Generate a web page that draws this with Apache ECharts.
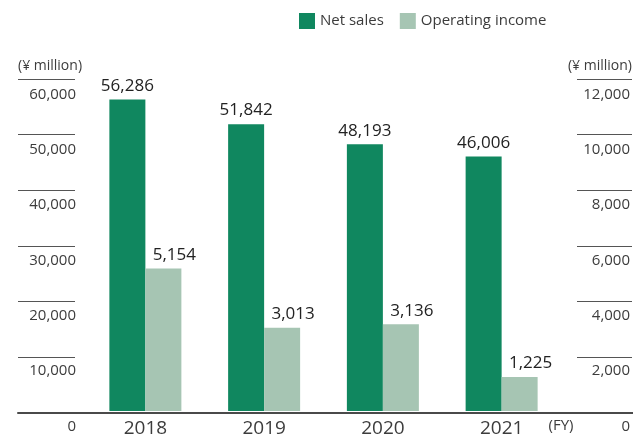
<!DOCTYPE html>
<html>
<head>
<meta charset="utf-8">
<script src="https://cdn.jsdelivr.net/npm/echarts@6/dist/echarts.min.js"></script>
<style>
  html, body { margin: 0; padding: 0; background: #fff; }
  #chart { width: 633px; height: 438px; }
</style>
</head>
<body>
<div id="chart"></div>
<script>
// Fiscal years and results (¥ million)
const years = ['2018', '2019', '2020', '2021'];
const netSales = [56286, 51842, 48193, 46006];
const operatingIncome = [5154, 3013, 3136, 1225];

// Axis scales
const salesMax = 60000, salesStep = 10000;
const incomeMax = 12000, incomeStep = 2000;
const unitLabel = '(¥ million)';
const periodLabel = '(FY)';

const FONT = '"Open Sans", "Noto Sans", sans-serif';
const GREEN = '#10875f';
const PALE = '#a6c5b3';
const TEXT = '#3c3c3c';
const RULE = '#555555';

const fmt = v => Number(v).toLocaleString('en-US');

const chart = echarts.init(document.getElementById('chart'), null, { renderer: 'canvas' });

const gridBox = { top: 79, bottom: 25 };

chart.setOption({
  animation: false,
  textStyle: { fontFamily: FONT },
  legend: {
    left: 294, top: 8,
    itemWidth: 16, itemHeight: 16, itemGap: 16,
    icon: 'rect',
    textStyle: { fontSize: 15, color: TEXT, fontFamily: FONT },
    data: ['Net sales', 'Operating income']
  },
  grid: [
    // plot area
    Object.assign({ left: 86, right: 66 }, gridBox),
    // short rules beside the left scale
    Object.assign({ left: 18, width: 57 }, gridBox),
    // short rules beside the right scale
    Object.assign({ left: 577, right: 0 }, gridBox),
    // full-width base line
    Object.assign({ left: 18, right: 0 }, gridBox)
  ],
  xAxis: [
    {
      gridIndex: 0, type: 'category', data: years,
      axisLine: { show: false }, axisTick: { show: false },
      axisLabel: { fontSize: 19, color: TEXT, margin: 8, fontFamily: FONT },
      name: periodLabel, nameLocation: 'end', nameGap: 0,
      nameTextStyle: { fontSize: 15, color: TEXT, align: 'center', verticalAlign: 'top', padding: [7, 0, 0, 0], fontFamily: FONT }
    },
    { gridIndex: 1, type: 'value', show: false, min: 0, max: 1 },
    { gridIndex: 2, type: 'value', show: false, min: 0, max: 1 },
    {
      gridIndex: 3, type: 'value', min: 0, max: 1,
      axisLine: { show: true, lineStyle: { color: '#4a4a4a', width: 2 } },
      axisTick: { show: false }, axisLabel: { show: false }, splitLine: { show: false }
    }
  ],
  yAxis: [
    {
      gridIndex: 0, type: 'value', position: 'left',
      min: 0, max: salesMax, interval: salesStep,
      axisLine: { show: false }, axisTick: { show: false }, splitLine: { show: false },
      axisLabel: {
        formatter: fmt, fontSize: 15, color: TEXT, margin: 10,
        verticalAlign: 'top', padding: [8, 0, 0, 0], fontFamily: FONT
      }
    },
    {
      gridIndex: 0, type: 'value', position: 'right',
      min: 0, max: incomeMax, interval: incomeStep,
      axisLine: { show: false }, axisTick: { show: false }, splitLine: { show: false },
      axisLabel: {
        formatter: fmt, fontSize: 15, color: TEXT, margin: 69, align: 'right',
        verticalAlign: 'top', padding: [8, 0, 0, 0], fontFamily: FONT
      }
    },
    {
      gridIndex: 1, type: 'value', position: 'left',
      min: 0, max: salesMax, interval: salesStep,
      axisLine: { show: false, onZero: false }, axisTick: { show: false }, axisLabel: { show: false },
      splitLine: { show: true, lineStyle: { color: RULE, width: 1 } },
      name: unitLabel, nameLocation: 'end', nameGap: 6,
      nameTextStyle: { fontSize: 14, color: TEXT, align: 'left', verticalAlign: 'bottom', fontFamily: FONT }
    },
    {
      gridIndex: 2, type: 'value', position: 'right',
      min: 0, max: incomeMax, interval: incomeStep,
      axisLine: { show: false, onZero: false }, axisTick: { show: false }, axisLabel: { show: false },
      splitLine: { show: true, lineStyle: { color: RULE, width: 1 } },
      name: unitLabel, nameLocation: 'end', nameGap: 6,
      nameTextStyle: { fontSize: 14, color: TEXT, align: 'right', verticalAlign: 'bottom', fontFamily: FONT }
    },
    { gridIndex: 3, type: 'value', show: false, min: 0, max: 1 }
  ],
  series: [
    {
      name: 'Net sales', type: 'bar', xAxisIndex: 0, yAxisIndex: 0,
      data: netSales, barWidth: 36, barGap: '0%',
      itemStyle: { color: GREEN },
      label: {
        show: true, position: 'top', distance: 5, formatter: p => fmt(p.value),
        fontSize: 17, color: '#222', fontFamily: FONT
      }
    },
    {
      name: 'Operating income', type: 'bar', xAxisIndex: 0, yAxisIndex: 1,
      data: operatingIncome, barWidth: 36, barGap: '0%',
      itemStyle: { color: PALE },
      label: {
        show: true, position: 'top', distance: 5, offset: [11, 0], formatter: p => fmt(p.value),
        fontSize: 17, color: '#222', fontFamily: FONT
      }
    }
  ]
});
</script>
</body>
</html>
